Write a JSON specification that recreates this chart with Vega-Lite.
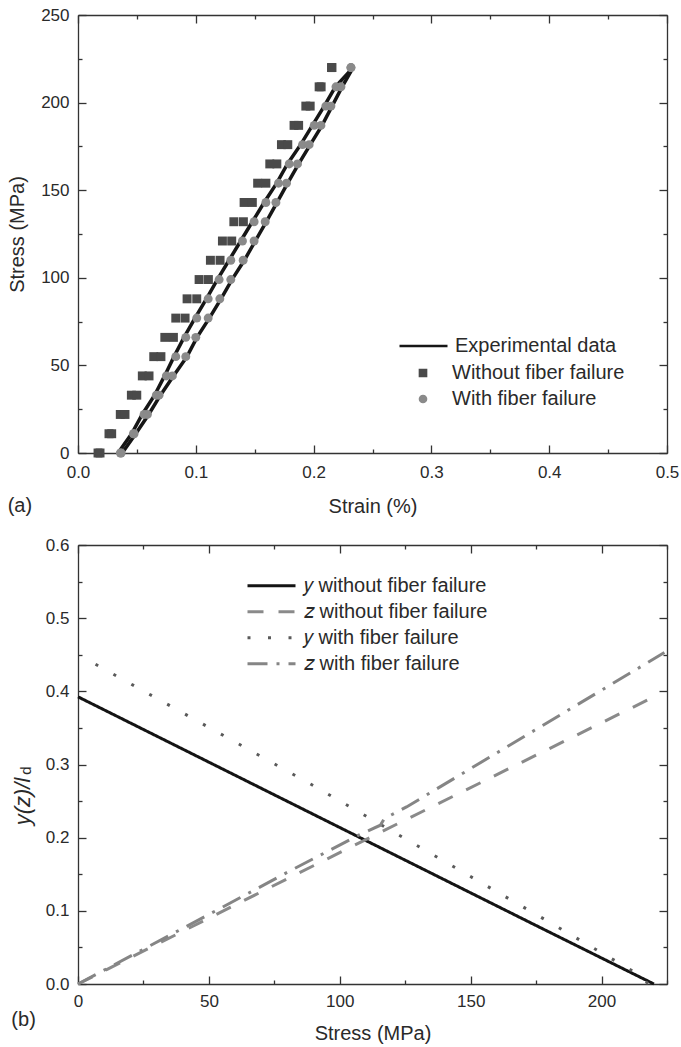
{
  "$schema": "https://vega.github.io/schema/vega-lite/v6.json",
  "background": "white",
  "padding": {"left": 7, "top": 6, "right": 5, "bottom": 4},
  "spacing": 20,
  "resolve": {
    "scale": {"stroke": "independent", "strokeDash": "independent", "shape": "independent", "fill": "independent"},
    "legend": {"stroke": "independent", "strokeDash": "independent", "shape": "independent", "fill": "independent"}
  },
  "config": {
    "font": "Liberation Sans",
    "view": {"stroke": null},
    "axis": {
      "labelFont": "Liberation Sans", "labelFontSize": 17, "labelColor": "#2a2a2a",
      "titleFont": "Liberation Sans", "titleFontSize": 20, "titleFontWeight": "normal", "titleColor": "#2a2a2a",
      "domainColor": "#333333", "domainWidth": 1.3, "tickColor": "#333333", "tickWidth": 1.3,
      "grid": false, "labelFlush": false, "labelOverlap": false
    },
    "legend": {"labelFont": "Liberation Sans", "labelFontSize": 20, "labelColor": "#2a2a2a", "labelLimit": 400, "rowPadding": 0}
  },
  "datasets": {
    "experimental": [
      {"branch": "left", "series": "Experimental data", "strain": 0.034, "stress": 0},
      {"branch": "left", "series": "Experimental data", "strain": 0.0455, "stress": 11},
      {"branch": "left", "series": "Experimental data", "strain": 0.0545, "stress": 22},
      {"branch": "left", "series": "Experimental data", "strain": 0.065, "stress": 33},
      {"branch": "left", "series": "Experimental data", "strain": 0.0735, "stress": 44},
      {"branch": "left", "series": "Experimental data", "strain": 0.0815, "stress": 55},
      {"branch": "left", "series": "Experimental data", "strain": 0.09, "stress": 66},
      {"branch": "left", "series": "Experimental data", "strain": 0.0993, "stress": 77},
      {"branch": "left", "series": "Experimental data", "strain": 0.109, "stress": 88},
      {"branch": "left", "series": "Experimental data", "strain": 0.1183, "stress": 99},
      {"branch": "left", "series": "Experimental data", "strain": 0.1282, "stress": 110},
      {"branch": "left", "series": "Experimental data", "strain": 0.1381, "stress": 121},
      {"branch": "left", "series": "Experimental data", "strain": 0.148, "stress": 132},
      {"branch": "left", "series": "Experimental data", "strain": 0.158, "stress": 143},
      {"branch": "left", "series": "Experimental data", "strain": 0.1687, "stress": 154},
      {"branch": "left", "series": "Experimental data", "strain": 0.1778, "stress": 165},
      {"branch": "left", "series": "Experimental data", "strain": 0.189, "stress": 176},
      {"branch": "left", "series": "Experimental data", "strain": 0.199, "stress": 187},
      {"branch": "left", "series": "Experimental data", "strain": 0.209, "stress": 198},
      {"branch": "left", "series": "Experimental data", "strain": 0.2185, "stress": 209},
      {"branch": "left", "series": "Experimental data", "strain": 0.2335, "stress": 220},
      {"branch": "right", "series": "Experimental data", "strain": 0.0375, "stress": 0},
      {"branch": "right", "series": "Experimental data", "strain": 0.049, "stress": 11},
      {"branch": "right", "series": "Experimental data", "strain": 0.06, "stress": 22},
      {"branch": "right", "series": "Experimental data", "strain": 0.07, "stress": 33},
      {"branch": "right", "series": "Experimental data", "strain": 0.081, "stress": 44},
      {"branch": "right", "series": "Experimental data", "strain": 0.0925, "stress": 55},
      {"branch": "right", "series": "Experimental data", "strain": 0.101, "stress": 66},
      {"branch": "right", "series": "Experimental data", "strain": 0.1115, "stress": 77},
      {"branch": "right", "series": "Experimental data", "strain": 0.1214, "stress": 88},
      {"branch": "right", "series": "Experimental data", "strain": 0.1307, "stress": 99},
      {"branch": "right", "series": "Experimental data", "strain": 0.1412, "stress": 110},
      {"branch": "right", "series": "Experimental data", "strain": 0.1505, "stress": 121},
      {"branch": "right", "series": "Experimental data", "strain": 0.1599, "stress": 132},
      {"branch": "right", "series": "Experimental data", "strain": 0.169, "stress": 143},
      {"branch": "right", "series": "Experimental data", "strain": 0.178, "stress": 154},
      {"branch": "right", "series": "Experimental data", "strain": 0.1873, "stress": 165},
      {"branch": "right", "series": "Experimental data", "strain": 0.1972, "stress": 176},
      {"branch": "right", "series": "Experimental data", "strain": 0.2072, "stress": 187},
      {"branch": "right", "series": "Experimental data", "strain": 0.2157, "stress": 198},
      {"branch": "right", "series": "Experimental data", "strain": 0.2242, "stress": 209},
      {"branch": "right", "series": "Experimental data", "strain": 0.2335, "stress": 220}
    ],
    "models": [
      {"series": "Without fiber failure", "strain": 0.017, "stress": 0},
      {"series": "Without fiber failure", "strain": 0.0187, "stress": 0},
      {"series": "Without fiber failure", "strain": 0.0263, "stress": 11},
      {"series": "Without fiber failure", "strain": 0.0286, "stress": 11},
      {"series": "Without fiber failure", "strain": 0.0359, "stress": 22},
      {"series": "Without fiber failure", "strain": 0.0399, "stress": 22},
      {"series": "Without fiber failure", "strain": 0.0453, "stress": 33},
      {"series": "Without fiber failure", "strain": 0.0499, "stress": 33},
      {"series": "Without fiber failure", "strain": 0.0546, "stress": 44},
      {"series": "Without fiber failure", "strain": 0.0603, "stress": 44},
      {"series": "Without fiber failure", "strain": 0.0643, "stress": 55},
      {"series": "Without fiber failure", "strain": 0.0704, "stress": 55},
      {"series": "Without fiber failure", "strain": 0.0737, "stress": 66},
      {"series": "Without fiber failure", "strain": 0.081, "stress": 66},
      {"series": "Without fiber failure", "strain": 0.083, "stress": 77},
      {"series": "Without fiber failure", "strain": 0.0909, "stress": 77},
      {"series": "Without fiber failure", "strain": 0.0926, "stress": 88},
      {"series": "Without fiber failure", "strain": 0.1008, "stress": 88},
      {"series": "Without fiber failure", "strain": 0.1028, "stress": 99},
      {"series": "Without fiber failure", "strain": 0.1107, "stress": 99},
      {"series": "Without fiber failure", "strain": 0.1124, "stress": 110},
      {"series": "Without fiber failure", "strain": 0.1206, "stress": 110},
      {"series": "Without fiber failure", "strain": 0.1226, "stress": 121},
      {"series": "Without fiber failure", "strain": 0.1305, "stress": 121},
      {"series": "Without fiber failure", "strain": 0.1323, "stress": 132},
      {"series": "Without fiber failure", "strain": 0.1404, "stress": 132},
      {"series": "Without fiber failure", "strain": 0.141, "stress": 143},
      {"series": "Without fiber failure", "strain": 0.148, "stress": 143},
      {"series": "Without fiber failure", "strain": 0.1525, "stress": 154},
      {"series": "Without fiber failure", "strain": 0.1595, "stress": 154},
      {"series": "Without fiber failure", "strain": 0.1628, "stress": 165},
      {"series": "Without fiber failure", "strain": 0.1688, "stress": 165},
      {"series": "Without fiber failure", "strain": 0.1727, "stress": 176},
      {"series": "Without fiber failure", "strain": 0.1781, "stress": 176},
      {"series": "Without fiber failure", "strain": 0.1834, "stress": 187},
      {"series": "Without fiber failure", "strain": 0.1873, "stress": 187},
      {"series": "Without fiber failure", "strain": 0.1934, "stress": 198},
      {"series": "Without fiber failure", "strain": 0.1971, "stress": 198},
      {"series": "Without fiber failure", "strain": 0.2047, "stress": 209},
      {"series": "Without fiber failure", "strain": 0.2064, "stress": 209},
      {"series": "Without fiber failure", "strain": 0.2152, "stress": 220},
      {"series": "Without fiber failure", "strain": 0.2156, "stress": 220},
      {"series": "With fiber failure", "strain": 0.036, "stress": 0},
      {"series": "With fiber failure", "strain": 0.0366, "stress": 0},
      {"series": "With fiber failure", "strain": 0.047, "stress": 11},
      {"series": "With fiber failure", "strain": 0.0476, "stress": 11},
      {"series": "With fiber failure", "strain": 0.0561, "stress": 22},
      {"series": "With fiber failure", "strain": 0.0589, "stress": 22},
      {"series": "With fiber failure", "strain": 0.0665, "stress": 33},
      {"series": "With fiber failure", "strain": 0.0688, "stress": 33},
      {"series": "With fiber failure", "strain": 0.075, "stress": 44},
      {"series": "With fiber failure", "strain": 0.0801, "stress": 44},
      {"series": "With fiber failure", "strain": 0.083, "stress": 55},
      {"series": "With fiber failure", "strain": 0.0915, "stress": 55},
      {"series": "With fiber failure", "strain": 0.0915, "stress": 66},
      {"series": "With fiber failure", "strain": 0.1, "stress": 66},
      {"series": "With fiber failure", "strain": 0.1008, "stress": 77},
      {"series": "With fiber failure", "strain": 0.1105, "stress": 77},
      {"series": "With fiber failure", "strain": 0.1105, "stress": 88},
      {"series": "With fiber failure", "strain": 0.1204, "stress": 88},
      {"series": "With fiber failure", "strain": 0.1198, "stress": 99},
      {"series": "With fiber failure", "strain": 0.1297, "stress": 99},
      {"series": "With fiber failure", "strain": 0.1297, "stress": 110},
      {"series": "With fiber failure", "strain": 0.1402, "stress": 110},
      {"series": "With fiber failure", "strain": 0.1396, "stress": 121},
      {"series": "With fiber failure", "strain": 0.1495, "stress": 121},
      {"series": "With fiber failure", "strain": 0.1495, "stress": 132},
      {"series": "With fiber failure", "strain": 0.1589, "stress": 132},
      {"series": "With fiber failure", "strain": 0.1595, "stress": 143},
      {"series": "With fiber failure", "strain": 0.168, "stress": 143},
      {"series": "With fiber failure", "strain": 0.1702, "stress": 154},
      {"series": "With fiber failure", "strain": 0.177, "stress": 154},
      {"series": "With fiber failure", "strain": 0.1793, "stress": 165},
      {"series": "With fiber failure", "strain": 0.1863, "stress": 165},
      {"series": "With fiber failure", "strain": 0.1906, "stress": 176},
      {"series": "With fiber failure", "strain": 0.1962, "stress": 176},
      {"series": "With fiber failure", "strain": 0.2005, "stress": 187},
      {"series": "With fiber failure", "strain": 0.2062, "stress": 187},
      {"series": "With fiber failure", "strain": 0.2104, "stress": 198},
      {"series": "With fiber failure", "strain": 0.2147, "stress": 198},
      {"series": "With fiber failure", "strain": 0.219, "stress": 209},
      {"series": "With fiber failure", "strain": 0.2232, "stress": 209},
      {"series": "With fiber failure", "strain": 0.2317, "stress": 220},
      {"series": "With fiber failure", "strain": 0.2317, "stress": 220}
    ],
    "ratio": [
      {"series": "y without fiber failure", "stress": 0, "value": 0.3925},
      {"series": "y without fiber failure", "stress": 107.2, "value": 0.201},
      {"series": "y without fiber failure", "stress": 175.9, "value": 0.0783},
      {"series": "y without fiber failure", "stress": 220, "value": 0},
      {"series": "z without fiber failure", "stress": 0, "value": 0},
      {"series": "z without fiber failure", "stress": 70, "value": 0.126},
      {"series": "z without fiber failure", "stress": 117, "value": 0.21},
      {"series": "z without fiber failure", "stress": 222, "value": 0.396},
      {"series": "y with fiber failure", "stress": 6.7, "value": 0.437},
      {"series": "y with fiber failure", "stress": 89, "value": 0.273},
      {"series": "y with fiber failure", "stress": 178.4, "value": 0.088},
      {"series": "y with fiber failure", "stress": 212.7, "value": 0.016},
      {"series": "y with fiber failure", "stress": 218, "value": 0},
      {"series": "z with fiber failure", "stress": 0, "value": 0},
      {"series": "z with fiber failure", "stress": 50, "value": 0.095},
      {"series": "z with fiber failure", "stress": 81.7, "value": 0.156},
      {"series": "z with fiber failure", "stress": 107, "value": 0.203},
      {"series": "z with fiber failure", "stress": 115.5, "value": 0.217},
      {"series": "z with fiber failure", "stress": 117, "value": 0.226},
      {"series": "z with fiber failure", "stress": 125.5, "value": 0.242},
      {"series": "z with fiber failure", "stress": 224, "value": 0.453}
    ]
  },
  "vconcat": [
    {
      "width": 589,
      "height": 438,
      "title": {"text": "(a)", "orient": "bottom", "anchor": "start", "frame": "bounds", "font": "Liberation Sans", "fontSize": 20, "fontWeight": "normal", "color": "#2a2a2a", "offset": -20},
      "resolve": {"axis": {"x": "independent", "y": "independent"}},
      "layer": [
        {
          "data": {"name": "experimental"},
          "mark": {"type": "line", "strokeWidth": 3.5},
          "encoding": {
            "x": {
              "field": "strain", "type": "quantitative",
              "scale": {"domain": [0, 0.5], "nice": false, "zero": false},
              "axis": {
                "orient": "bottom", "title": "Strain (%)",
                "values": [0, 0.05, 0.1, 0.15, 0.2, 0.25, 0.3, 0.35, 0.4, 0.45, 0.5],
                "tickSize": {"condition": {"test": "round(datum.value * 20) % 2 === 0", "value": -8}, "value": -4},
                "labelExpr": "round(datum.value * 20) % 2 === 0 ? format(datum.value, '.1f') : ''",
                "labelPadding": 19, "titlePadding": 12
              }
            },
            "y": {
              "field": "stress", "type": "quantitative",
              "scale": {"domain": [0, 250], "nice": false},
              "axis": {
                "orient": "left", "title": "Stress (MPa)",
                "values": [0, 25, 50, 75, 100, 125, 150, 175, 200, 225, 250],
                "tickSize": {"condition": {"test": "datum.value % 50 === 0", "value": -8}, "value": -4},
                "labelExpr": "datum.value % 50 === 0 ? datum.label : ''",
                "labelPadding": 17, "titlePadding": 13
              }
            },
            "detail": {"field": "branch"},
            "stroke": {
              "field": "series", "type": "nominal",
              "scale": {"domain": ["Experimental data"], "range": ["#161616"]},
              "legend": {
                "title": null, "orient": "none", "legendX": 320, "legendY": 318,
                "symbolSize": 2304, "symbolStrokeWidth": 2.5, "clipHeight": 26,
                "labelOffset": 6
              }
            }
          }
        },
        {
          "data": {"name": "models"},
          "mark": {"type": "point", "filled": true, "size": 80, "opacity": 1},
          "encoding": {
            "x": {
              "field": "strain", "type": "quantitative",
              "axis": {
                "orient": "top", "title": null, "labels": false,
                "values": [0, 0.05, 0.1, 0.15, 0.2, 0.25, 0.3, 0.35, 0.4, 0.45, 0.5],
                "tickSize": {"condition": {"test": "round(datum.value * 20) % 2 === 0", "value": -8}, "value": -4}
              }
            },
            "y": {
              "field": "stress", "type": "quantitative",
              "axis": {
                "orient": "right", "title": null, "labels": false,
                "values": [0, 25, 50, 75, 100, 125, 150, 175, 200, 225, 250],
                "tickSize": {"condition": {"test": "datum.value % 50 === 0", "value": -8}, "value": -4}
              }
            },
            "shape": {
              "field": "series", "type": "nominal",
              "scale": {"domain": ["Without fiber failure", "With fiber failure"], "range": ["square", "circle"]},
              "legend": {
                "title": null, "orient": "none", "legendX": 335, "legendY": 345,
                "symbolSize": 75, "clipHeight": 26, "labelOffset": 19
              }
            },
            "fill": {
              "field": "series", "type": "nominal",
              "scale": {"domain": ["Without fiber failure", "With fiber failure"], "range": ["#4a4a4a", "#8a8a8a"]},
              "legend": {
                "title": null, "orient": "none", "legendX": 335, "legendY": 345,
                "symbolSize": 75, "clipHeight": 26, "labelOffset": 19
              }
            }
          }
        }
      ]
    },
    {
      "width": 589,
      "height": 439,
      "title": {"text": "(b)", "orient": "bottom", "anchor": "start", "frame": "bounds", "font": "Liberation Sans", "fontSize": 20, "fontWeight": "normal", "color": "#2a2a2a", "offset": -33},
      "resolve": {"axis": {"x": "independent", "y": "independent"}},
      "data": {"name": "ratio"},
      "encoding": {
        "x": {"field": "stress", "type": "quantitative", "scale": {"domain": [0, 225], "nice": false}},
        "y": {"field": "value", "type": "quantitative", "scale": {"domain": [0, 0.6], "nice": false}},
        "stroke": {
          "field": "series", "type": "nominal",
          "scale": {
            "domain": ["y without fiber failure", "z without fiber failure", "y with fiber failure", "z with fiber failure"],
            "range": ["#141414", "#8a8a8a", "#5a5a5a", "#858585"]
          },
          "legend": {
            "title": null, "orient": "none", "legendX": 168, "legendY": 28,
            "symbolSize": 2304, "symbolStrokeWidth": 3, "clipHeight": 25.3, "labelOffset": 7,
            "labelExpr": "(substring(datum.label, 0, 1) === 'y' ? '𝑦' : '𝑧') + substring(datum.label, 1)"
          }
        },
        "strokeDash": {
          "field": "series", "type": "nominal",
          "scale": {
            "domain": ["y without fiber failure", "z without fiber failure", "y with fiber failure", "z with fiber failure"],
            "range": [[1, 0], [16, 15], [3, 17.5], [20, 9, 3, 9]]
          },
          "legend": {
            "title": null, "orient": "none", "legendX": 168, "legendY": 28,
            "symbolSize": 2304, "symbolStrokeWidth": 3, "clipHeight": 25.3, "labelOffset": 7,
            "labelExpr": "(substring(datum.label, 0, 1) === 'y' ? '𝑦' : '𝑧') + substring(datum.label, 1)"
          }
        }
      },
      "layer": [
        {
          "transform": [{"filter": "datum.series === 'y without fiber failure'"}],
          "mark": {"type": "line", "strokeWidth": 3},
          "encoding": {
            "x": {
              "field": "stress", "type": "quantitative",
              "axis": {
                "orient": "bottom", "title": "Stress (MPa)",
                "values": [0, 25, 50, 75, 100, 125, 150, 175, 200, 225],
                "tickSize": {"condition": {"test": "datum.value % 50 === 0", "value": -8}, "value": -4},
                "labelExpr": "datum.value % 50 === 0 ? datum.label : ''",
                "labelPadding": 17, "titlePadding": 10
              }
            },
            "y": {
              "field": "value", "type": "quantitative",
              "axis": {
                "orient": "left", "title": "y(z)/l", "titleFontStyle": "italic", "titleFontSize": 22,
                "values": [0, 0.05, 0.1, 0.15, 0.2, 0.25, 0.3, 0.35, 0.4, 0.45, 0.5, 0.55, 0.6],
                "tickSize": {"condition": {"test": "round(datum.value * 20) % 2 === 0", "value": -8}, "value": -4},
                "labelExpr": "round(datum.value * 20) % 2 === 0 ? format(datum.value, '.1f') : ''",
                "labelPadding": 17, "titlePadding": 11, "titleY": 256
              }
            }
          }
        },
        {
          "transform": [{"filter": "datum.series === 'z without fiber failure'"}],
          "mark": {"type": "line", "strokeWidth": 3},
          "encoding": {
            "x": {
              "field": "stress", "type": "quantitative",
              "axis": {
                "orient": "top", "title": null, "labels": false,
                "values": [0, 25, 50, 75, 100, 125, 150, 175, 200, 225],
                "tickSize": {"condition": {"test": "datum.value % 50 === 0", "value": -8}, "value": -4}
              }
            },
            "y": {
              "field": "value", "type": "quantitative",
              "axis": {
                "orient": "right", "title": null, "labels": false,
                "values": [0, 0.05, 0.1, 0.15, 0.2, 0.25, 0.3, 0.35, 0.4, 0.45, 0.5, 0.55, 0.6],
                "tickSize": {"condition": {"test": "round(datum.value * 20) % 2 === 0", "value": -8}, "value": -4}
              }
            }
          }
        },
        {
          "transform": [{"filter": "datum.series === 'y with fiber failure'"}],
          "mark": {"type": "line", "strokeWidth": 3},
          "encoding": {
            "x": {"field": "stress", "type": "quantitative", "axis": null},
            "y": {
              "field": "value", "type": "quantitative",
              "axis": {
                "orient": "left", "title": "d", "titleFontSize": 15, "titleFontStyle": "normal",
                "domain": false, "ticks": false, "labels": false,
                "titleX": -45, "titleY": 225, "titleAngle": -90, "titleAlign": "center", "titleBaseline": "bottom"
              }
            }
          }
        },
        {
          "transform": [{"filter": "datum.series === 'z with fiber failure'"}],
          "mark": {"type": "line", "strokeWidth": 3},
          "encoding": {
            "x": {"field": "stress", "type": "quantitative", "axis": null},
            "y": {"field": "value", "type": "quantitative", "axis": null}
          }
        }
      ]
    }
  ]
}
